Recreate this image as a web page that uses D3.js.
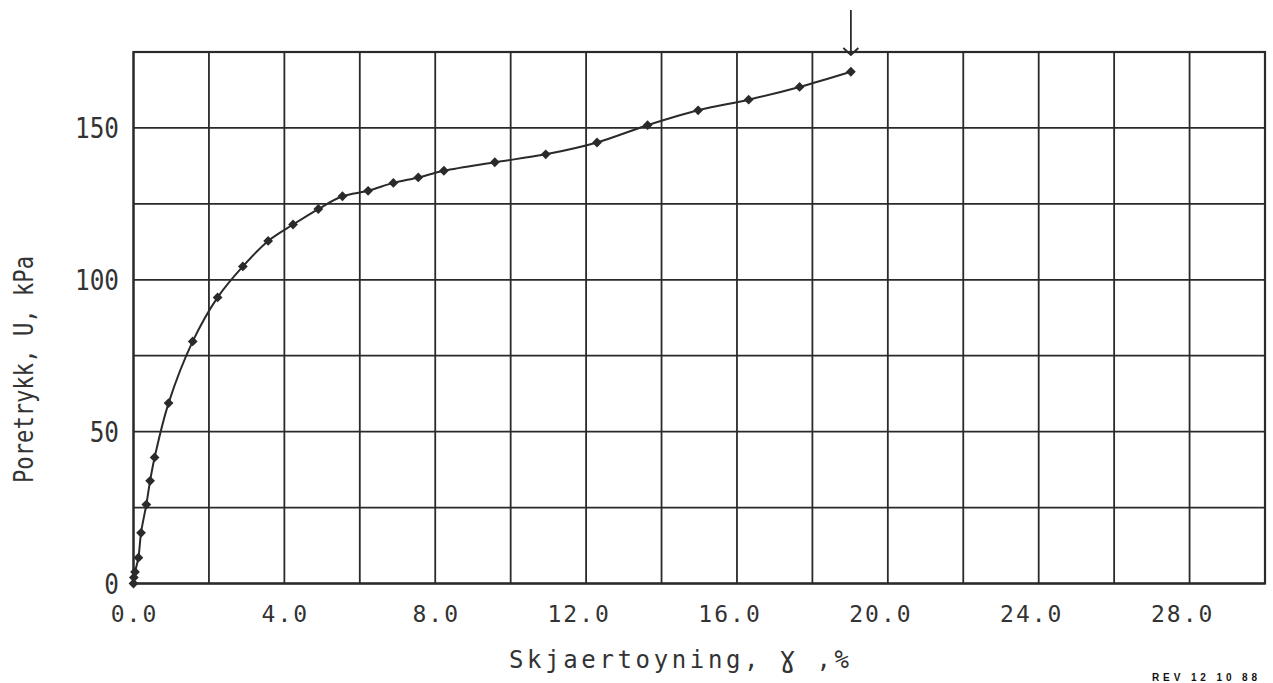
<!DOCTYPE html>
<html>
<head>
<meta charset="utf-8">
<script src="https://cdn.jsdelivr.net/npm/d3@7"></script>
<style>
  html, body { margin: 0; padding: 0; background: #fff; }
  svg { display: block; }
</style>
</head>
<body>
<svg id="chart" width="1273" height="683"></svg>
<script>
// ---- data ----
const strain = [0, 0.01, 0.04, 0.13, 0.2, 0.34, 0.44, 0.56, 0.93, 1.57, 2.23, 2.90, 3.57, 4.23, 4.90, 5.54, 6.22, 6.89, 7.55, 8.23, 9.58, 10.93, 12.29, 13.63, 14.97, 16.31, 17.66, 19.02];
const porePressure = [0, 2.0, 3.8, 8.5, 16.7, 26, 33.8, 41.5, 59.4, 79.7, 94.2, 104.4, 112.8, 118.2, 123.3, 127.5, 129.3, 131.9, 133.7, 135.9, 138.7, 141.3, 145.2, 150.9, 155.8, 159.3, 163.5, 168.5];
const xTickValues = [0, 4, 8, 12, 16, 20, 24, 28];
const xTickLabels = ["0.0", "4.0", "8.0", "12.0", "16.0", "20.0", "24.0", "28.0"];
const xGridValues = [0, 2, 4, 6, 8, 10, 12, 14, 16, 18, 20, 22, 24, 26, 28, 30];
const yTickValues = [0, 50, 100, 150];
const yTickLabels = ["0", "50", "100", "150"];
const yGridValues = [0, 25, 50, 75, 100, 125, 150, 175];
const xTitle = "Skjaertoyning, \u0194 ,%";
const yTitle = "Poretrykk, U, kPa";
const stampText = "REV 12 10 88";

// ---- layout ----
const plotL = 133.5, plotR = 1265, plotT = 52, plotB = 583.5;
const ink = "#2a2a2a";
const textInk = "#333";
const mono = "'DejaVu Sans Mono', 'Liberation Mono', monospace";

const svg = d3.select("#chart");
const x = d3.scaleLinear().domain([0, 30]).range([plotL, plotR]);
const y = d3.scaleLinear().domain([0, 175]).range([plotB, plotT]);

// grid
const grid = svg.append("g").attr("stroke", ink).attr("stroke-width", 1.8).attr("fill", "none");
grid.selectAll("line.v").data(xGridValues).join("line").attr("class", "v")
  .attr("x1", d => x(d)).attr("x2", d => x(d)).attr("y1", y(0)).attr("y2", y(175));
grid.selectAll("line.h").data(yGridValues).join("line").attr("class", "h")
  .attr("y1", d => y(d)).attr("y2", d => y(d)).attr("x1", x(0)).attr("x2", x(30));
grid.append("rect").attr("x", x(0)).attr("y", y(175))
  .attr("width", x(30) - x(0)).attr("height", y(0) - y(175)).attr("stroke-width", 2.2);

// x tick labels (aligned on the decimal point)
const xFont = 23, xAdv = 15.85, xGlyph = 0.602 * xFont;
svg.append("g").selectAll("text").data(xTickValues).join("text")
  .attr("x", (d, i) => {
    const n = xTickLabels[i].indexOf(".");
    return x(d) - n * xAdv - xGlyph / 2;
  })
  .attr("y", 622)
  .attr("font-family", mono).attr("font-size", xFont)
  .attr("letter-spacing", (xAdv - xGlyph) + "px")
  .attr("fill", textInk)
  .text((d, i) => xTickLabels[i]);

// y tick labels
svg.append("g").selectAll("text").data(yTickValues).join("text")
  .attr("transform", d => `translate(119,${y(d) + 10}) scale(0.87,1)`)
  .attr("text-anchor", "end")
  .attr("font-family", mono).attr("font-size", 28)
  .attr("fill", textInk)
  .text((d, i) => yTickLabels[i]);

// axis titles
svg.append("text")
  .attr("x", 509).attr("y", 668)
  .attr("font-family", mono).attr("font-size", 24)
  .attr("textLength", 340).attr("lengthAdjust", "spacing")
  .attr("fill", textInk)
  .text(xTitle);

svg.append("text")
  .attr("transform", "translate(33,483) rotate(-90)")
  .attr("font-family", mono).attr("font-size", 26)
  .attr("textLength", 227).attr("lengthAdjust", "spacingAndGlyphs")
  .attr("fill", textInk)
  .text(yTitle);

// curve
const pts = strain.map((s, i) => [s, porePressure[i]]);
const line = d3.line().x(d => x(d[0])).y(d => y(d[1])).curve(d3.curveCatmullRom.alpha(0.5));
svg.append("path").datum(pts).attr("d", line)
  .attr("fill", "none").attr("stroke", ink).attr("stroke-width", 2);

// markers
const sym = d3.symbol().type(d3.symbolSquare).size(48);
svg.append("g").selectAll("path").data(pts).join("path")
  .attr("transform", d => `translate(${x(d[0])},${y(d[1])}) rotate(45)`)
  .attr("d", sym).attr("fill", ink);

// arrow marking the last point (failure)
const last = pts[pts.length - 1];
const ax = x(last[0]);
const tipY = y(175) + 3;
const arrow = svg.append("g").attr("stroke", ink).attr("stroke-width", 1.8).attr("fill", "none");
arrow.append("line").attr("x1", ax).attr("x2", ax).attr("y1", 10).attr("y2", tipY);
arrow.append("path").attr("d", `M${ax - 7.5},${tipY - 7} L${ax},${tipY} L${ax + 7.5},${tipY - 7}`);

// stamp at bottom right
svg.append("text")
  .attr("x", 1152).attr("y", 681)
  .attr("font-family", "'Liberation Sans', Arial, sans-serif").attr("font-weight", "bold")
  .attr("font-size", 10).attr("textLength", 105).attr("lengthAdjust", "spacing")
  .attr("fill", "#111")
  .text(stampText);
</script>
</body>
</html>
